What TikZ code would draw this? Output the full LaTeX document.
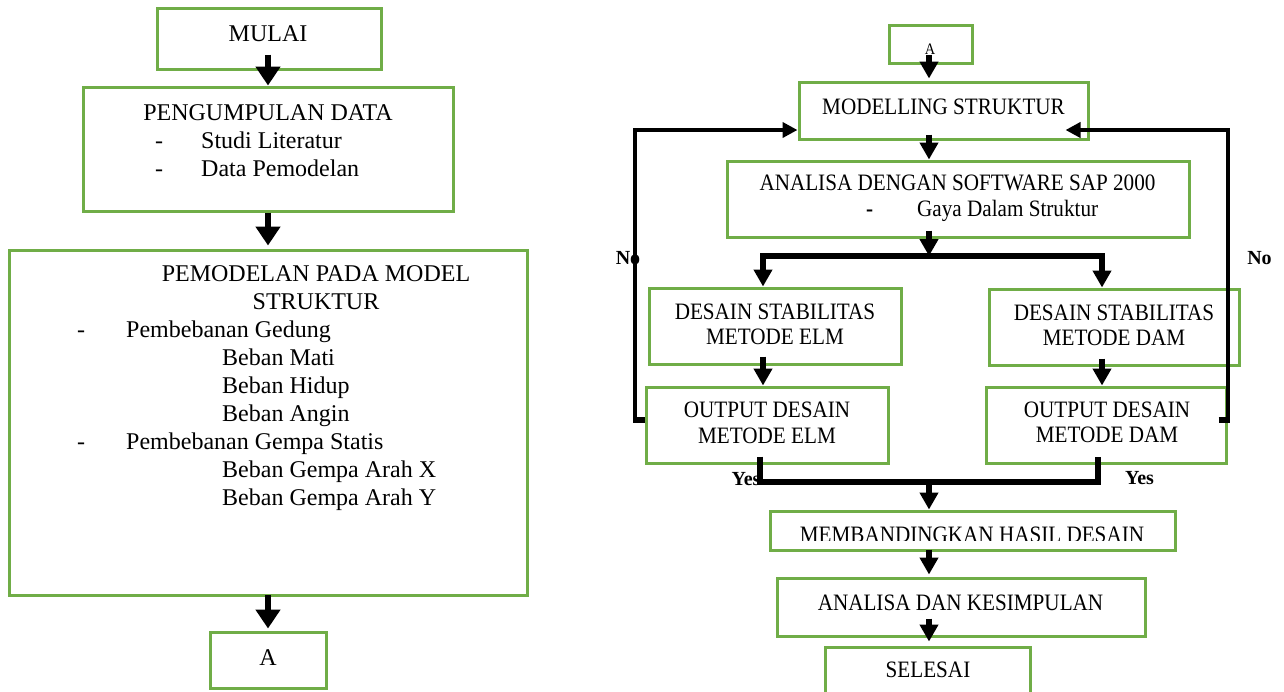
\documentclass[tikz,border=0pt]{standalone}
\usepackage{fontspec}
\setmainfont{Liberation Serif}
\newfontfamily\rfont[FakeStretch=0.9]{Liberation Serif}
\usetikzlibrary{arrows.meta,calc}
\definecolor{boxgreen}{RGB}{112,173,71}
\begin{document}
\begin{tikzpicture}[x=1pt,y=-1pt,
  gbox/.style={draw=boxgreen,line width=3pt,inner sep=0pt,shape=rectangle},
  ltxt/.style={inner sep=0pt,anchor=base,font=\fontsize{24}{28}\selectfont},
  ltxtw/.style={ltxt,anchor=base west},
  rtxt/.style={inner sep=0pt,anchor=base,font=\rfont\fontsize{23.5}{28}\selectfont},
  rtxtw/.style={rtxt,anchor=base west},
  lbl/.style={inner sep=0pt,anchor=base,font=\bfseries\fontsize{20}{24}\selectfont},
  arrL/.style={line width=6.5pt,-{Triangle[width=24pt,length=19pt]}},
  arrR/.style={line width=6pt,-{Triangle[width=18pt,length=17pt]}},
  fb/.style={line width=4pt,line join=miter,-{Triangle[width=15pt,length=15pt]}},
  stub/.style={line width=6pt},
  bar/.style={line width=6pt,line cap=rect,line join=miter}]
\fill[white] (0,0) rectangle (1284,691);
\clip (0,0) rectangle (1284,691);
% ---------- left column ----------
\node[gbox,minimum width=224pt,minimum height=61pt] (mulai) at (269,38.5) {};
\node[gbox,minimum width=370pt,minimum height=124pt] (kumpul) at (268,149) {};
\node[gbox,minimum width=518pt,minimum height=345pt] (model) at (268,422.5) {};
\node[gbox,minimum width=116pt,minimum height=56pt] (aL) at (268,660) {};
\node[ltxt] (tmulai) at (268,41) {MULAI};
\node[ltxt] (tkumpul) at (268,120) {PENGUMPULAN DATA};
\node[ltxtw] (d1) at (155,148) {-};
\node[ltxtw] (s1) at (201,148) {Studi Literatur};
\node[ltxtw] (d2) at (155,176) {-};
\node[ltxtw] (s2) at (201,176) {Data Pemodelan};
\node[ltxt] (tmod1) at (316,281) {PEMODELAN PADA MODEL};
\node[ltxt] (tmod2) at (316,309) {STRUKTUR};
\node[ltxtw] (d3) at (77,337) {-};
\node[ltxtw] (m1) at (126,337) {Pembebanan Gedung};
\node[ltxtw] (m2) at (222,365) {Beban Mati};
\node[ltxtw] (m3) at (222,393) {Beban Hidup};
\node[ltxtw] (m4) at (222,421) {Beban Angin};
\node[ltxtw] (d4) at (77,449) {-};
\node[ltxtw] (m5) at (126,449) {Pembebanan Gempa Statis};
\node[ltxtw] (m6) at (222,477) {Beban Gempa Arah X};
\node[ltxtw] (m7) at (222,505) {Beban Gempa Arah Y};
\node[ltxt] (taL) at (268,665) {A};
\coordinate (lsp) at (268,0);
\draw[arrL] ([yshift=16pt]lsp |- mulai.south) -- (lsp |- kumpul.north);
\draw[arrL] (lsp |- kumpul.south) -- ([yshift=3pt]lsp |- model.north);
\draw[arrL] ([yshift=2pt]lsp |- model.south) -- ([yshift=2pt]lsp |- aL.north);
% ---------- right column ----------
\node[gbox,minimum width=83pt,minimum height=38pt] (aR) at (930.5,44) {};
\node[gbox,minimum width=289pt,minimum height=57pt] (modR) at (943.5,110.5) {};
\node[gbox,minimum width=462pt,minimum height=76pt] (anal) at (958,199) {};
\node[gbox,minimum width=252pt,minimum height=76pt] (desE) at (775,326) {};
\node[gbox,minimum width=250pt,minimum height=76pt] (desD) at (1114,327) {};
\node[gbox,minimum width=242pt,minimum height=76pt] (outE) at (767,425) {};
\node[gbox,minimum width=240pt,minimum height=76pt] (outD) at (1106,425) {};
\node[gbox,minimum width=405pt,minimum height=39pt] (band) at (972.5,530.5) {};
\node[gbox,minimum width=368pt,minimum height=58pt] (simp) at (961,607) {};
\node[gbox,minimum width=205pt,minimum height=53pt] (sel) at (927.5,673.5) {};
\node[rtxt,font=\rfont\fontsize{16}{18}\selectfont] (taR) at (930,54) {A};
\node[rtxt] (tmodR) at (943.5,114.5) {MODELLING STRUKTUR};
\node[rtxt] (tanal) at (957.5,190.5) {ANALISA DENGAN SOFTWARE SAP 2000};
\node[rtxtw] (d5) at (866,216) {\textbf{-}};
\node[rtxtw] (tgaya) at (917,216) {Gaya Dalam Struktur};
\node[rtxt] (tdesE1) at (775,319.5) {DESAIN STABILITAS};
\node[rtxt] (tdesE2) at (775,344.5) {METODE ELM};
\node[rtxt] (tdesD1) at (1114,320.5) {DESAIN STABILITAS};
\node[rtxt] (tdesD2) at (1114,345.5) {METODE DAM};
\node[rtxt] (toutE1) at (767,417.5) {OUTPUT DESAIN};
\node[rtxt] (toutE2) at (767,443.5) {METODE ELM};
\node[rtxt] (toutD1) at (1107,417.5) {OUTPUT DESAIN};
\node[rtxt] (toutD2) at (1107,442.5) {METODE DAM};
\begin{scope}
\clip (770,500) rectangle (1175,540);
\node[rtxt] (tband) at (972,542) {MEMBANDINGKAN HASIL DESAIN};
\end{scope}
\node[rtxt] (tsimp) at (960.5,610.5) {ANALISA DAN KESIMPULAN};
\node[rtxt] (tsel) at (928,677.5) {SELESAI};
\node[lbl] (noL) at (628,264) {No};
\node[lbl] (noR) at (1259.5,264) {No};
\node[lbl] (yesL) at (746,485) {Yes};
\node[lbl] (yesR) at (1139.5,484) {Yes};
% connectors
\coordinate (rsp) at (929,0);
\coordinate (brL) at (763,256);
\coordinate (brR) at (1102,256);
\coordinate (ybL) at (760,482);
\coordinate (ybR) at (1098,482);
\coordinate (fbL) at (635,420);
\coordinate (fbR) at (1228,420);
\draw[arrR] ([yshift=10pt]rsp |- aR.south) -- ([yshift=2pt]rsp |- modR.north);
\draw[arrR] ([yshift=6pt]rsp |- modR.south) -- (rsp |- anal.north);
\draw[arrR] ([yshift=8pt]rsp |- anal.south) -- (rsp |- brL);
\draw[bar] (brL) -- (brR);
\draw[arrR] (brL) -- (brL |- desE.north);
\draw[arrR] (brR) -- (brR |- desD.north);
\draw[arrR] ([yshift=9pt]brL |- desE.south) -- (brL |- outE.north);
\draw[arrR] ([yshift=8pt]brR |- desD.south) -- (brR |- outD.north);
\draw[bar,line cap=butt] ([yshift=8pt]ybL |- outE.south) -- (ybL) -- (ybR) -- ([yshift=8pt]ybR |- outD.south);
\draw[arrR] (rsp |- ybL) -- (rsp |- band.north);
\draw[arrR] ([yshift=2pt]rsp |- band.south) -- ([yshift=2pt]rsp |- simp.north);
\draw[arrR] ([yshift=19pt]rsp |- simp.south) -- ([yshift=4pt]rsp |- sel.north);
\draw[fb] (fbL) -- ([yshift=-19.5pt]fbL |- modR.west) -- ([yshift=-19.5pt]modR.west);
\draw[stub] ([yshift=5pt]outE.west) -- ([xshift=-2pt]fbL);
\draw[fb] (fbR) -- ([yshift=-19.5pt]fbR |- modR.east) -- ([xshift=-24pt,yshift=-19.5pt]modR.east);
\draw[stub] ([xshift=-9pt,yshift=5pt]outD.east) -- ([xshift=2pt]fbR);
\end{tikzpicture}
\end{document}
